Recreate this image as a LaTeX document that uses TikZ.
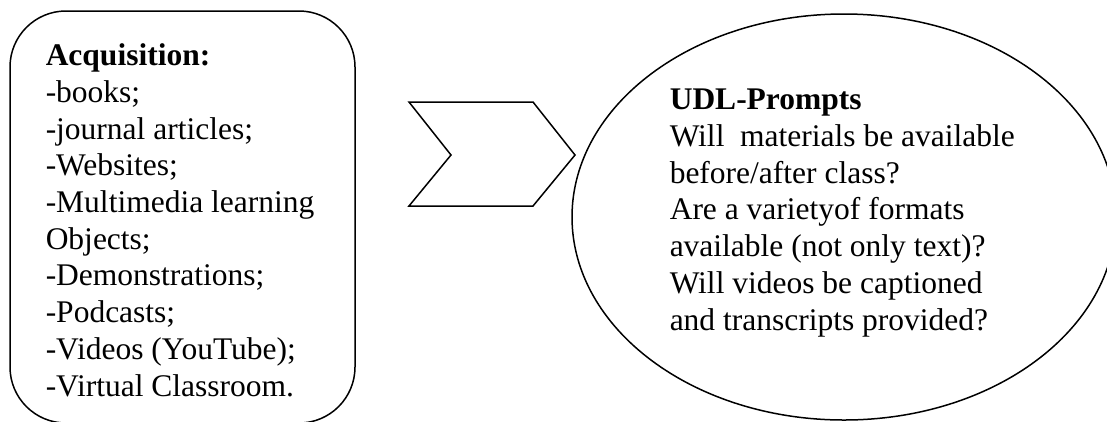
\documentclass[tikz,border=0pt]{standalone}
\usepackage{fontspec}
\setmainfont{Liberation Serif}
\usetikzlibrary{shapes.geometric}
\begin{document}
\begin{tikzpicture}[x=1pt,y=-1pt,line width=1.5pt,
  bodytext/.style={font=\fontsize{31.5}{36.7}\selectfont,align=left,inner sep=0pt,anchor=base west},
  outline/.style={draw=black,line width=1.5pt}]
\useasboundingbox (0,0) rectangle (1107,421);
\begin{scope}
  \clip (0,0) rectangle (1107,421);
  % rounded box on the left, running past the lower edge
  \node[outline,rectangle,rounded corners=56pt,minimum width=345pt,minimum height=412pt,inner sep=0pt] (acqbox) at (182.5,217) {};
  % ellipse on the right
  \node[outline,ellipse,minimum width=544pt,minimum height=406pt,inner sep=0pt] (udl) at (844,217) {};
\end{scope}
% chevron between the two shapes
\coordinate (c1) at (409,102);
\coordinate (c2) at (533,102);
\coordinate (c3) at (575,155);
\coordinate (c4) at (533,206);
\coordinate (c5) at (409,206);
\coordinate (c6) at (451,155);
\draw[outline,line join=miter] (c1) -- (c2) -- (c3) -- (c4) -- (c5) -- (c6) -- cycle;
% texts (anchored at the baseline of their last line)
\node[bodytext] (acqtext) at (45,396) {\textbf{Acquisition:}\\-books;\\-journal articles;\\-Websites;\\-Multimedia learning\\Objects;\\-Demonstrations;\\-Podcasts;\\-Videos (YouTube);\\-Virtual Classroom.};
\node[bodytext] (udltext) at (669,330) {\textbf{UDL-Prompts}\\Will\ \ materials be available\\before/after class?\\Are a varietyof formats\\available (not only text)?\\Will videos be captioned\\and transcripts provided?};
\end{tikzpicture}
\end{document}
